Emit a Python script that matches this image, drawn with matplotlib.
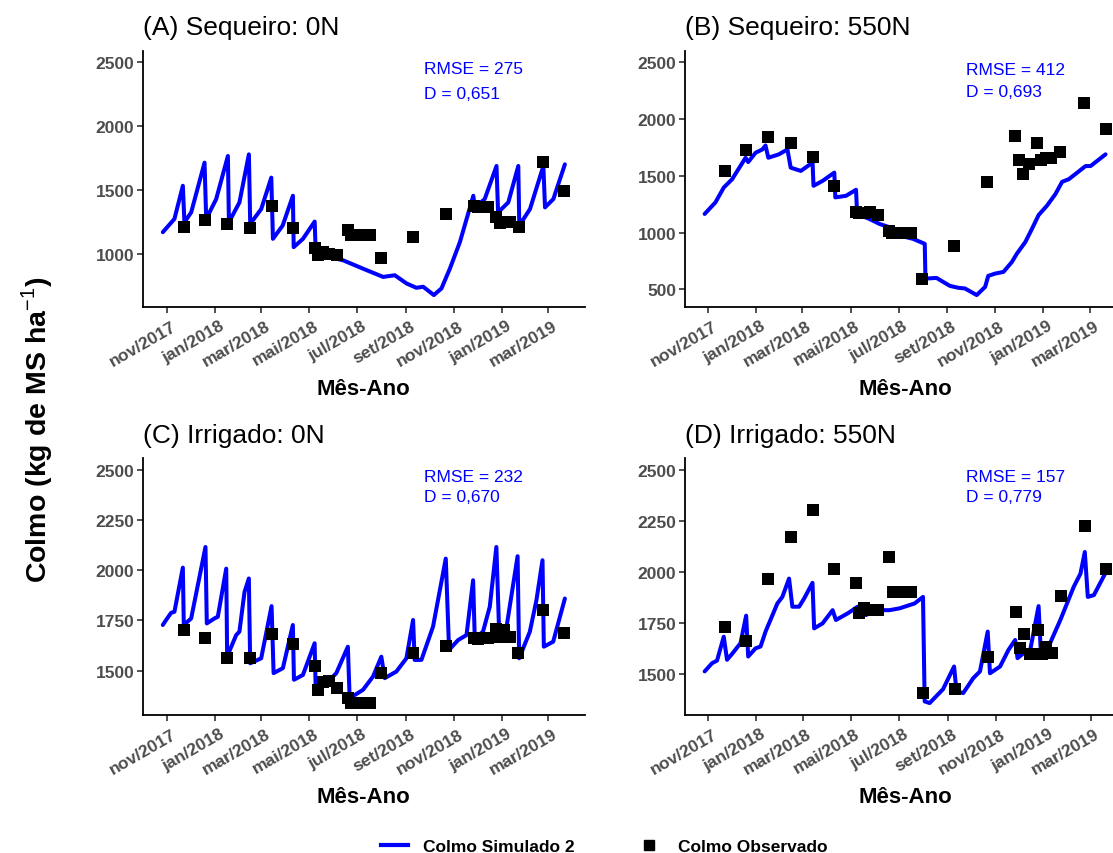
import matplotlib
matplotlib.use("Agg")
import matplotlib.pyplot as plt
import matplotlib.dates as mdates
from matplotlib.lines import Line2D
from matplotlib.ticker import FuncFormatter
from matplotlib.transforms import ScaledTranslation
import pandas as pd

plt.rcParams['font.family'] = ['Liberation Sans', 'DejaVu Sans']
plt.rcParams['mathtext.fontset'] = 'custom'
plt.rcParams['mathtext.rm'] = 'Liberation Sans'
plt.rcParams['mathtext.bf'] = 'Liberation Sans:bold'

# simulated series: days after 2017-11-01, stem mass (kg MS/ha)
t0 = pd.Timestamp('2017-11-01')

simA_day = [-5.5, 9.3, 20, 22, 30.6, 47.6, 49.7, 62.4, 77.3, 78.6, 92, 104, 105.7, 119.7, 132.5, 134.6,
            147, 160, 161, 172.8, 187.7, 189, 206.8, 223.8, 249, 274.7, 289.6, 304.5, 317, 325.7, 339.3,
            349, 359.7, 372.4, 381, 389.5, 391.5, 404, 419, 421, 434, 446.7, 448, 461.6, 478.6, 480.7,
            491.3, 506]
simA_val = [1171, 1275, 1534, 1249, 1326, 1715, 1275, 1430, 1767, 1249, 1404, 1780, 1236, 1352, 1598, 1119,
            1223, 1456, 1054, 1119, 1254, 1016, 977, 951, 886, 821, 834, 770, 736, 744, 679,
            731, 886, 1093, 1275, 1456, 1365, 1430, 1689, 1326, 1404, 1689, 1223, 1352, 1689, 1365,
            1430, 1702]

simB_day = [-4.3, 9.4, 20, 30.6, 47.7, 51, 60.4, 69, 73, 76.6, 90, 100.9, 105, 117.9, 132.8, 134, 145.5,
            160.4, 161.7, 175.3, 188, 189.4, 205, 218, 230.6, 243.4, 260.4, 275.3, 276.2, 290.2, 307.2,
            317.9, 326.4, 341.3, 352, 356, 364.7, 375.3, 386, 392.3, 403, 411.5, 420, 430.6, 441.3,
            449.8, 458.3, 469, 479.6, 486, 505]
simB_val = [1165, 1267, 1398, 1471, 1660, 1622, 1704, 1733, 1768, 1660, 1690, 1733, 1573, 1544, 1617, 1413, 1456,
            1529, 1311, 1325, 1378, 1165, 1121, 1077, 1048, 975, 946, 902, 596, 602, 532,
            515, 509, 451, 523, 620, 640, 655, 742, 815, 917, 1034, 1156, 1238, 1340,
            1448, 1471, 1529, 1587, 1587, 1690]

simC_day = [-5.5, -1.3, 5.1, 9.3, 20, 21.2, 30.6, 48.8, 50.5, 60.3, 64.5, 75.2, 76.4, 87.9, 92, 98.5, 104,
            105.7, 119.7, 132.9, 135.5, 147.3, 160, 161.4, 172.8, 187.7, 189, 202.5, 215.3, 230, 232.3,
            249.3, 262, 272.6, 276.9, 291.7, 304.5, 313, 315, 323.6, 338.4, 354.6, 358.8, 370.3, 381,
            389.4, 391.5, 402, 410.6, 419, 422.5, 432, 446, 448, 461.6, 470, 477.7, 479.4, 491.3, 506.2]
simC_val = [1727, 1752, 1788, 1793, 2013, 1727, 1760, 2116, 1735, 1760, 1768, 2008, 1570, 1677, 1694, 1892, 1959,
            1536, 1561, 1821, 1487, 1512, 1727, 1454, 1478, 1636, 1420, 1437, 1487, 1619, 1362,
            1404, 1470, 1569, 1462, 1495, 1561, 1752, 1553, 1553, 1719, 2058, 1603, 1652, 1677,
            1950, 1661, 1694, 1818, 2116, 1694, 1719, 2070, 1561, 1694, 1851, 2050, 1619, 1644, 1859]

simD_day = [-4.2, 5.1, 11.5, 20, 24.2, 30.6, 41.2, 48.4, 51, 60.3, 66.7, 73, 88, 94.3, 102.8, 107, 115.5,
            121.9, 132.5, 134.6, 145.2, 158, 162.2, 177, 189.8, 200.4, 211, 230, 242.9, 262, 272.6,
            274.7, 281, 298, 312, 315, 323.6, 336.3, 344.8, 354.6, 357.5, 370.3, 380.9, 389.4, 392.4,
            400, 408.5, 419.1, 422, 431.8, 446.7, 463.6, 472.2, 477.7, 481.5, 489.2, 504]
simD_val = [1513, 1553, 1566, 1683, 1570, 1599, 1651, 1786, 1586, 1626, 1635, 1708, 1846, 1878, 1968, 1830, 1830,
            1870, 1947, 1724, 1748, 1813, 1765, 1797, 1830, 1789, 1813, 1813, 1822, 1846, 1878,
            1366, 1358, 1426, 1537, 1415, 1407, 1480, 1513, 1708, 1504, 1537, 1618, 1667, 1578,
            1602, 1618, 1833, 1602, 1635, 1765, 1927, 1992, 2098, 1878, 1887, 1996]

# observed (same sampling dates for all treatments)
obs_dates = ['2017-11-22', '2017-12-19', '2018-01-16', '2018-02-14', '2018-03-14', '2018-04-10',
             '2018-05-08', '2018-05-12', '2018-05-18', '2018-05-26', '2018-06-05', '2018-06-19',
             '2018-06-23', '2018-07-06', '2018-07-17', '2018-07-31', '2018-09-10', '2018-10-22',
             '2018-11-26', '2018-12-01', '2018-12-06', '2018-12-14', '2018-12-24', '2018-12-29',
             '2019-01-04', '2019-01-11', '2019-01-22', '2019-02-22', '2019-03-21']
obsA = [1215, 1267, 1233, 1205, 1378, 1205, 1047, 995, 1016, 1003, 990, 1192, 1150, 1150, 1150, 972,
        1137, 1316, 1373, 1365, 1368, 1365, 1288, 1241, 1254, 1254, 1210, 1723, 1490]
obsB = [1544, 1724, 1841, 1789, 1669, 1413, 1185, 1171, 1175, 1185, 1159, 1013, 999, 999, 999, 593,
        882, 1450, 1853, 1640, 1520, 1602, 1789, 1637, 1654, 1654, 1710, 2144, 1914]
obsC = [1702, 1662, 1561, 1561, 1680, 1631, 1523, 1404, 1442, 1450, 1415, 1362, 1338, 1338, 1338, 1490,
        1589, 1622, 1661, 1656, 1661, 1661, 1705, 1669, 1702, 1669, 1586, 1801, 1685]
obsD = [1730, 1664, 1968, 2170, 2306, 2013, 1947, 1797, 1826, 1813, 1813, 2072, 1904, 1901, 1904, 1405,
        1428, 1586, 1804, 1630, 1698, 1599, 1714, 1599, 1631, 1605, 1883, 2225, 2017]

titles = ['(A) Sequeiro: 0N', '(B) Sequeiro: 550N', '(C) Irrigado: 0N', '(D) Irrigado: 550N']
rmse = [275, 412, 232, 157]
dval = ['0,651', '0,693', '0,670', '0,779']
yticks = [[1000, 1500, 2000, 2500], [500, 1000, 1500, 2000, 2500],
          [1500, 1750, 2000, 2250, 2500], [1500, 1750, 2000, 2250, 2500]]
meses = ['jan', 'fev', 'mar', 'abr', 'mai', 'jun', 'jul', 'ago', 'set', 'out', 'nov', 'dez']

W, H = 1113, 854
fig = plt.figure(figsize=(W / 100, H / 100), dpi=100)

# axes boxes in pixels: left, top, right, bottom
boxes = [(142.7, 51.7, 585, 307.7), (684.6, 51.7, 1125.6, 307.7),
         (142.7, 459.3, 585, 715.7), (684.6, 459.3, 1125.6, 715.7)]
text_y = [(0.930, 0.831), (0.928, 0.841), (0.930, 0.850), (0.930, 0.850)]

sims = [(simA_day, simA_val), (simB_day, simB_val), (simC_day, simC_val), (simD_day, simD_val)]
obs = [obsA, obsB, obsC, obsD]
odates = pd.to_datetime(obs_dates)
shift = ScaledTranslation(4 / 100, -3 / 100, fig.dpi_scale_trans)

for i in range(4):
    l, t, r, b = boxes[i]
    ax = fig.add_axes([l / W, 1 - b / H, (r - l) / W, (b - t) / H])
    days, vals = sims[i]
    x = t0 + pd.to_timedelta(days, unit='D')
    ax.plot(x, vals, color='#0000FF', lw=2.9, solid_joinstyle='round', solid_capstyle='round', zorder=2)
    ax.scatter(odates, obs[i], marker='s', s=78, color='black', linewidths=0, zorder=3)

    # ggplot style limits: 5% expansion
    lo = min(min(vals), min(obs[i]))
    hi = 2500
    ax.set_ylim(lo - 0.05 * (hi - lo), hi + 0.05 * (hi - lo))
    d0, d1 = min(days), max(days)
    ax.set_xlim(t0 + pd.Timedelta(days=d0 - 0.05 * (d1 - d0)), t0 + pd.Timedelta(days=d1 + 0.05 * (d1 - d0)))

    ax.set_yticks(yticks[i])
    ax.xaxis.set_major_locator(mdates.MonthLocator(bymonth=[1, 3, 5, 7, 9, 11]))
    ax.xaxis.set_major_formatter(FuncFormatter(
        lambda v, p: '%s/%d' % (meses[mdates.num2date(v).month - 1], mdates.num2date(v).year)))

    for s in ['top', 'right']:
        ax.spines[s].set_visible(False)
    for s in ['left', 'bottom']:
        ax.spines[s].set_linewidth(1.3)
    ax.tick_params(length=4, width=1.2, color='#333333', labelcolor='#4D4D4D', labelsize=12.5, pad=2)
    for lab in ax.get_yticklabels():
        lab.set_fontweight('bold')
    for tk in ax.xaxis.get_major_ticks():
        lab = tk.label1
        lab.set_fontweight('bold')
        lab.set_rotation(30)
        lab.set_ha('right')
        lab.set_va('top')
        lab.set_rotation_mode('anchor')
        lab.set_transform(lab.get_transform() + shift)

    ax.set_xlabel('Mês-Ano', fontsize=16, fontweight='bold', labelpad=7)
    ax.set_title(titles[i], loc='left', fontsize=19, pad=12)

    ax.text(0.637, text_y[i][0], 'RMSE = %d' % rmse[i], transform=ax.transAxes, color='#0000FF',
            fontsize=12.5, va='center', ha='left')
    ax.text(0.637, text_y[i][1], 'D = ' + dval[i], transform=ax.transAxes, color='#0000FF',
            fontsize=12.5, va='center', ha='left')

fig.text(37 / W, 1 - 430 / H, r'Colmo (kg de MS ha$^{-1}$)', rotation=90, fontsize=20.5,
         fontweight='bold', ha='center', va='center')

handles = [Line2D([], [], color='#0000FF', lw=3),
           Line2D([], [], color='black', marker='s', ls='', ms=7.5)]
fig.legend(handles, ['Colmo Simulado 2', 'Colmo Observado'], ncol=2, loc='center',
           bbox_to_anchor=(604 / W, 1 - 847 / H), frameon=False,
           prop={'weight': 'bold', 'size': 12.5}, handlelength=1.6, handletextpad=0.85,
           columnspacing=3.5)

fig.savefig('out.png', dpi=100)
